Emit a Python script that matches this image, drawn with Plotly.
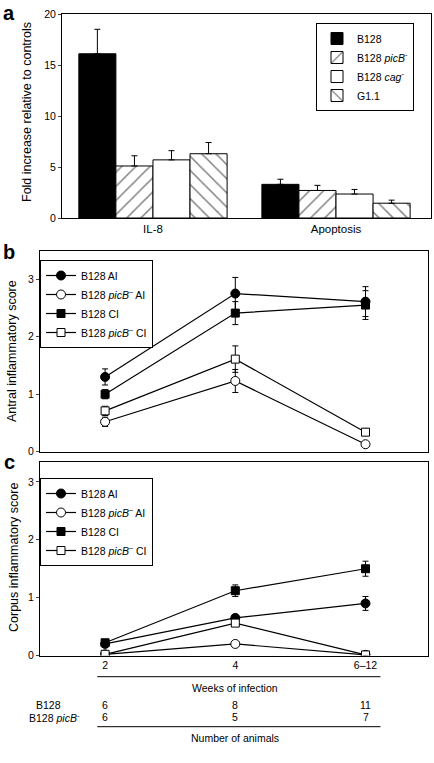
import plotly.graph_objects as go

W, H = 434, 763
FONT = "Liberation Sans, Arial, sans-serif"

# ---------------- data ----------------
# panel a
bar_categories = ["IL-8", "Apoptosis"]
bar_names = ["B128", "B128 <i>picB</i><sup>-</sup>", "B128 <i>cag</i><sup>-</sup>", "G1.1"]
b128_vals = [16.1, 3.3]
b128_err = [2.4, 0.5]
picb_vals = [5.1, 2.7]
picb_err = [1.0, 0.5]
cag_vals = [5.7, 2.35]
cag_err = [0.9, 0.45]
g11_vals = [6.3, 1.45]
g11_err = [1.1, 0.3]

# panels b and c
weeks = ["2", "4", "6–12"]
week_idx = [0, 1, 2]
series_names = ["B128 AI", "B128 <i>picB</i><sup>–</sup> AI", "B128 CI", "B128 <i>picB</i><sup>–</sup> CI"]

antral_b128_ai = [1.30, 2.75, 2.61]
antral_b128_ai_err = [0.14, 0.28, 0.26]
antral_picb_ai = [0.52, 1.23, 0.13]
antral_picb_ai_err = [0.08, 0.20, 0.03]
antral_b128_ci = [1.00, 2.41, 2.55]
antral_b128_ci_err = [0.08, 0.20, 0.25]
antral_picb_ci = [0.71, 1.61, 0.34]
antral_picb_ci_err = [0.08, 0.23, 0.06]

corpus_b128_ai = [0.20, 0.65, 0.90]
corpus_b128_ai_err = [0.03, 0.05, 0.12]
corpus_picb_ai = [0.02, 0.20, 0.01]
corpus_picb_ai_err = [0.01, 0.04, 0.01]
corpus_b128_ci = [0.22, 1.12, 1.50]
corpus_b128_ci_err = [0.03, 0.10, 0.13]
corpus_picb_ci = [0.02, 0.56, 0.01]
corpus_picb_ci_err = [0.01, 0.05, 0.01]

animals_b128 = ["6", "8", "11"]
animals_picb = ["6", "5", "7"]


def px_x(p):
    return p / W


def px_y(p):
    return 1 - p / H


fig = go.Figure()

# ---------------- panel a bars ----------------
bar_specs = [
    (bar_names[0], b128_vals, b128_err, dict(color="black", line=dict(color="black", width=1))),
    (bar_names[1], picb_vals, picb_err, dict(color="white", line=dict(color="black", width=1),
                                             pattern=dict(shape="/", fgcolor="black", bgcolor="white",
                                                          size=10, solidity=0.15))),
    (bar_names[2], cag_vals, cag_err, dict(color="white", line=dict(color="black", width=1))),
    (bar_names[3], g11_vals, g11_err, dict(color="white", line=dict(color="black", width=1),
                                           pattern=dict(shape="\\", fgcolor="black", bgcolor="white",
                                                        size=10, solidity=0.15))),
]
for name, vals, err, marker in bar_specs:
    fig.add_trace(go.Bar(
        x=bar_categories, y=vals, name=name, marker=marker,
        error_y=dict(type="data", array=err, arrayminus=[0] * len(err), symmetric=False,
                     color="black", thickness=1, width=3),
        xaxis="x", yaxis="y", legend="legend",
    ))

# ---------------- panels b & c lines ----------------
styles = [
    dict(symbol="circle", color="black", line=dict(color="black", width=1), size=9),
    dict(symbol="circle", color="white", line=dict(color="black", width=1), size=9),
    dict(symbol="square", color="black", line=dict(color="black", width=1), size=8),
    dict(symbol="square", color="white", line=dict(color="black", width=1), size=8),
]

antral = [
    (antral_b128_ai, antral_b128_ai_err),
    (antral_picb_ai, antral_picb_ai_err),
    (antral_b128_ci, antral_b128_ci_err),
    (antral_picb_ci, antral_picb_ci_err),
]
corpus = [
    (corpus_b128_ai, corpus_b128_ai_err),
    (corpus_picb_ai, corpus_picb_ai_err),
    (corpus_b128_ci, corpus_b128_ci_err),
    (corpus_picb_ci, corpus_picb_ci_err),
]

for data, xa, ya, lg in [(antral, "x2", "y2", "legend2"), (corpus, "x3", "y3", "legend3")]:
    for i, (vals, err) in enumerate(data):
        fig.add_trace(go.Scatter(
            x=week_idx, y=vals, name=series_names[i], mode="lines+markers",
            line=dict(color="black", width=1.2), marker=styles[i],
            error_y=dict(type="data", array=err, color="black", thickness=1, width=3),
            xaxis=xa, yaxis=ya, legend=lg,
        ))

axis_common = dict(showline=True, linecolor="black", linewidth=1, mirror=True,
                   showgrid=False, zeroline=False, automargin=False,
                   tickfont=dict(family=FONT, size=10.5, color="black"))

fig.update_layout(
    width=W, height=H,
    margin=dict(l=0, r=0, t=0, b=0, autoexpand=False),
    paper_bgcolor="white", plot_bgcolor="white",
    font=dict(family=FONT, color="black"),
    barmode="group", bargap=0.19, bargroupgap=0,
    xaxis=dict(domain=[px_x(62), px_x(431)], anchor="y", range=[-0.497, 1.519],
               ticks="", tickfont=dict(family=FONT, size=11.5, color="black"),
               **{k: v for k, v in axis_common.items() if k != "tickfont"}),
    yaxis=dict(domain=[px_y(218), px_y(14)], anchor="x", range=[0, 20],
               tickvals=[0, 5, 10, 15, 20], ticks="outside", ticklen=3, **axis_common),
    xaxis2=dict(domain=[px_x(40), px_x(428)], anchor="y2", range=[-0.5, 2.48],
                showticklabels=False, ticks="", **axis_common),
    yaxis2=dict(domain=[px_y(451.7), px_y(251)], anchor="x2", range=[0, 3.49],
                tickvals=[0, 1, 2, 3], ticks="outside", ticklen=3, **axis_common),
    xaxis3=dict(domain=[px_x(40), px_x(428)], anchor="y3", range=[-0.5, 2.48],
                tickvals=week_idx, ticktext=weeks, ticks="", **axis_common),
    yaxis3=dict(domain=[px_y(655.5), px_y(461.7)], anchor="x3", range=[0, 3.35],
                tickvals=[0, 1, 2, 3], ticks="outside", ticklen=3, **axis_common),
    legend=dict(x=px_x(316), y=px_y(23), xanchor="left", yanchor="top",
                bordercolor="black", borderwidth=1, bgcolor="white",
                font=dict(family=FONT, size=10.5, color="black"), itemwidth=30,
                tracegroupgap=4),
    legend2=dict(x=px_x(40), y=px_y(260), xanchor="left", yanchor="top",
                 bordercolor="black", borderwidth=1, bgcolor="white",
                 font=dict(family=FONT, size=10.5, color="black"), itemwidth=30),
    legend3=dict(x=px_x(40), y=px_y(478), xanchor="left", yanchor="top",
                 bordercolor="black", borderwidth=1, bgcolor="white",
                 font=dict(family=FONT, size=10.5, color="black"), itemwidth=30),
    showlegend=True,
)

annotations = []
# panel letters
for letter, yy in [("a", 13), ("b", 252), ("c", 462)]:
    annotations.append(dict(text=f"<b>{letter}</b>", x=px_x(9), y=px_y(yy), xref="paper", yref="paper",
                            showarrow=False, font=dict(family=FONT, size=20, color="black"),
                            xanchor="center", yanchor="middle"))
# y titles
for txt, xx, yy in [("Fold increase relative to controls", 27, 112),
                    ("Antral inflammatory score", 12, 351),
                    ("Corpus inflammatory score", 14, 558)]:
    annotations.append(dict(text=txt, x=px_x(xx), y=px_y(yy), xref="paper", yref="paper",
                            showarrow=False, textangle=-90, font=dict(family=FONT, size=12.5, color="black"),
                            xanchor="center", yanchor="middle"))
# table below panel c
small = dict(family=FONT, size=10.5, color="black")
annotations.append(dict(text="Weeks of infection", x=1, y=px_y(688), xref="x3", yref="paper",
                        showarrow=False, font=small, xanchor="center", yanchor="middle"))
annotations.append(dict(text="Number of animals", x=1, y=px_y(738), xref="x3", yref="paper",
                        showarrow=False, font=small, xanchor="center", yanchor="middle"))
annotations.append(dict(text="B128", x=px_x(48), y=px_y(705), xref="paper", yref="paper",
                        showarrow=False, font=small, xanchor="center", yanchor="middle"))
annotations.append(dict(text="B128 <i>picB</i><sup>-</sup>", x=px_x(54), y=px_y(717), xref="paper",
                        yref="paper", showarrow=False, font=small, xanchor="center", yanchor="middle"))
for i, (n1, n2) in enumerate(zip(animals_b128, animals_picb)):
    annotations.append(dict(text=n1, x=week_idx[i], y=px_y(705), xref="x3", yref="paper",
                            showarrow=False, font=small, xanchor="center", yanchor="middle"))
    annotations.append(dict(text=n2, x=week_idx[i], y=px_y(717), xref="x3", yref="paper",
                            showarrow=False, font=small, xanchor="center", yanchor="middle"))
fig.update_layout(annotations=annotations)

shapes = []
for yy in [676.7, 726.7]:
    shapes.append(dict(type="line", xref="x3", yref="paper", x0=-0.06, x1=2.115,
                       y0=px_y(yy), y1=px_y(yy), line=dict(color="black", width=1)))
fig.update_layout(shapes=shapes)

fig.write_html("out.html", config={"displayModeBar": False},
               post_script="document.body.style.margin='0';")
